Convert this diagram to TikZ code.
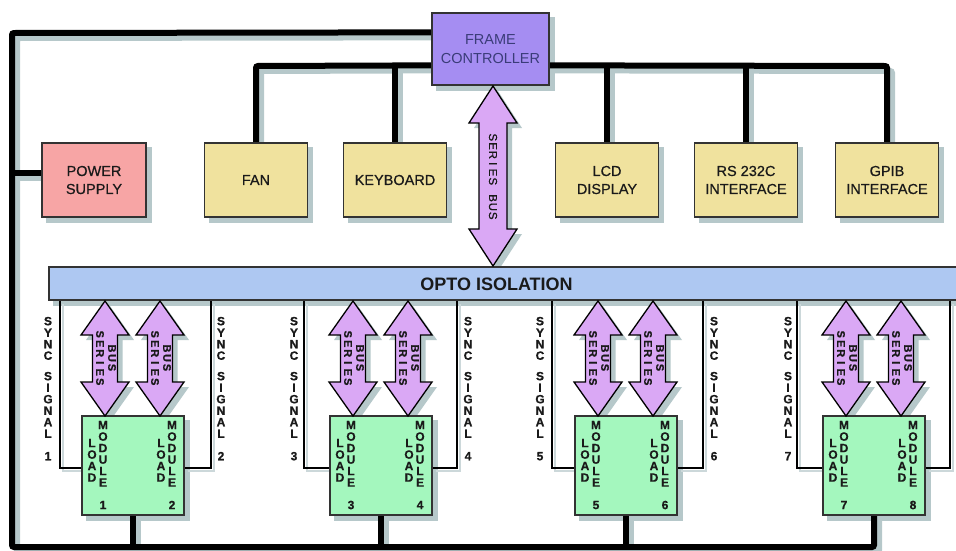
\documentclass[tikz,border=0pt]{standalone}
\usepackage{fontspec}
\setmainfont{Liberation Sans}
\newfontfamily\boxfont[FakeBold=0.6]{Liberation Sans}
\newfontfamily\smallfont[FakeBold=0.8]{Liberation Sans Bold}
\newfontfamily\arrfont[FakeBold=0.8]{Liberation Sans}
\usetikzlibrary{calc}
\definecolor{fcc}{HTML}{A58DF2}
\definecolor{fctext}{HTML}{3A3C78}
\definecolor{psc}{HTML}{F7A5A5}
\definecolor{yel}{HTML}{F0E29E}
\definecolor{barc}{HTML}{AEC8F2}
\definecolor{modc}{HTML}{A4F7BE}
\definecolor{arrowc}{HTML}{DAA8F5}
\definecolor{shadowc}{HTML}{B6C8CA}
\definecolor{shadowl}{HTML}{CCD8DA}
\definecolor{boxline}{HTML}{333333}
\definecolor{textc}{HTML}{1A1A1A}
\pgfdeclarelayer{shad}
\pgfdeclarelayer{lines}
\pgfsetlayers{shad,lines,main}
\newlength\Lspw
\def\Lsp#1#2\Lend{\makebox[\Lspw]{#1}\ifx\relax#2\relax\else\Lsp#2\Lend\fi}
\newcommand\busarrow[6]{%
  \begin{pgfonlayer}{shad}
  \fill[shadowc] ({#1+5},{#2+5}) -- ({#1+#5+5},{#2+#6+5}) -- ({#1+#4+5},{#2+#6+5}) -- ({#1+#4+5},{#3-#6+5}) -- ({#1+#5+5},{#3-#6+5}) -- ({#1+5},{#3+5}) -- ({#1-#5+5},{#3-#6+5}) -- ({#1-#4+5},{#3-#6+5}) -- ({#1-#4+5},{#2+#6+5}) -- ({#1-#5+5},{#2+#6+5}) -- cycle;
  \end{pgfonlayer}
  \draw[arrowsty] (#1,#2) -- ({#1+#5},{#2+#6}) -- ({#1+#4},{#2+#6}) -- ({#1+#4},{#3-#6}) -- ({#1+#5},{#3-#6}) -- (#1,#3) -- ({#1-#5},{#3-#6}) -- ({#1-#4},{#3-#6}) -- ({#1-#4},{#2+#6}) -- ({#1-#5},{#2+#6}) -- cycle;
}
\newcommand\buslines[1]{%
  \draw[#1] ([yshift=-20pt]fc.north west) -- (tl) -- (bl) -- (m78.south |- bl) -- (m78.south);
  \draw[#1] (m12.south) -- (m12.south |- bl);
  \draw[#1] (m34.south) -- (m34.south |- bl);
  \draw[#1] (m56.south) -- (m56.south |- bl);
  \draw[#1] ([yshift=7pt]ps.west) -- ([yshift=7pt]ps.west -| tl);
  \draw[#1] ([yshift=-53pt]fc.north west) -- (fan.north |- y2) -- (fan.north);
  \draw[#1] (kb.north |- y2) -- (kb.north);
  \draw[#1] ([yshift=-53pt]fc.north east) -- (gpib.north |- y2) -- (gpib.north);
  \draw[#1] (lcd.north |- y2) -- (lcd.north);
  \draw[#1] (rs.north |- y2) -- (rs.north);
}
\newcommand\synclines[1]{%
  \draw[#1] (sy1 |- opto.south) -- (sy1) -- (sy1 -| m12.west);
  \draw[#1] (sy2 |- opto.south) -- (sy2) -- (sy2 -| m12.east);
  \draw[#1] (sy3 |- opto.south) -- (sy3) -- (sy3 -| m34.west);
  \draw[#1] (sy4 |- opto.south) -- (sy4) -- (sy4 -| m34.east);
  \draw[#1] (sy5 |- opto.south) -- (sy5) -- (sy5 -| m56.west);
  \draw[#1] (sy6 |- opto.south) -- (sy6) -- (sy6 -| m56.east);
  \draw[#1] (sy7 |- opto.south) -- (sy7) -- (sy7 -| m78.west);
  \draw[#1] (sy8 |- opto.south) -- (sy8) -- (sy8 -| m78.east);
}
\begin{document}
\begin{tikzpicture}[x=1pt,y=-1pt,
  box/.style={draw=boxline, line width=1.3pt, inner sep=0pt, align=center,
    font=\boxfont\fontsize{14.5}{18}\selectfont, text=textc, minimum height=74pt, minimum width=103pt},
  module/.style={draw=boxline, line width=1.3pt, fill=modc, inner sep=0pt,
    minimum width=102pt, minimum height=99pt},
  bus/.style={line width=6pt, black, rounded corners=2pt},
  busshadow/.style={line width=6pt, shadowc, rounded corners=2pt},
  sync/.style={line width=1.8pt, black},
  syncshadow/.style={line width=1.8pt, shadowl},
  stack/.style={inner sep=0pt, align=center, anchor=north, text=textc,
    font=\smallfont\fontsize{12}{11.5}\selectfont},
  numlab/.style={inner sep=0pt, text=textc, font=\smallfont\fontsize{12}{12}\selectfont},
  arrowsty/.style={fill=arrowc, draw=black, line width=1.3pt, line join=miter},
  arrowtext/.style={inner sep=0pt, rotate=-90, text=textc},
]
\useasboundingbox (0,0) rectangle (956,550);

% top-level boxes
\node[box, fill=fcc, text=fctext, minimum width=117pt, minimum height=72pt,
  font=\fontsize{14.5}{19}\selectfont] (fc) at (490.5,49) {FRAME\\CONTROLLER};
\node[box, fill=psc, minimum width=104pt] (ps) at (94,180) {POWER\\SUPPLY};
\node[box, fill=yel] (fan) at (256,180) {FAN};
\node[box, fill=yel] (kb) at (395,180) {KEYBOARD};
\node[box, fill=yel] (lcd) at (607,180) {LCD\\DISPLAY};
\node[box, fill=yel] (rs) at (746,180) {RS 232C\\INTERFACE};
\node[box, fill=yel] (gpib) at (887,180) {GPIB\\INTERFACE};

% opto isolation bar
\node[draw=boxline, line width=1.3pt, fill=barc, inner sep=0pt,
  minimum width=913pt, minimum height=33pt] (opto) at (505.5,283.5) {};
\node[inner sep=0pt, text=textc, font=\bfseries\fontsize{18}{20}\selectfont] (optolab) at (496.5,284) {OPTO ISOLATION};

% load modules
\node[module] (m12) at (133,465.5) {};
\node[module] (m34) at (381,465.5) {};
\node[module] (m56) at (626,465.5) {};
\node[module] (m78) at (874,465.5) {};

\foreach \c/\a/\b in {133/1/2,381/3/4,626/5/6,874/7/8}{
  \node[stack] (la\a) at ({\c-41},438.7) {L\\O\\A\\D};
  \node[stack] (mo\a) at ({\c-30},420.7) {M\\O\\D\\U\\L\\E};
  \node[numlab] (nm\a) at ({\c-30},505) {\a};
  \node[stack] (la\b) at ({\c+28},438.7) {L\\O\\A\\D};
  \node[stack] (mo\b) at ({\c+39},420.7) {M\\O\\D\\U\\L\\E};
  \node[numlab] (nm\b) at ({\c+39},505) {\b};
}

% coordinates for connectors
\coordinate (tl) at (12,33);
\coordinate (bl) at (12,547);
\coordinate (y2) at (0,66);
\coordinate (sy1) at (60,468);
\coordinate (sy2) at (211,468);
\coordinate (sy3) at (304,468);
\coordinate (sy4) at (457,468);
\coordinate (sy5) at (552,468);
\coordinate (sy6) at (703,468);
\coordinate (sy7) at (797,468);
\coordinate (sy8) at (950,468);

% shadows
\begin{pgfonlayer}{shad}
  \foreach \n in {fc,ps,fan,kb,lcd,rs,gpib,opto,m12,m34,m56,m78}{
    \fill[shadowc] ([shift={(5pt,-5pt)}]\n.south west) rectangle ([shift={(5pt,-5pt)}]\n.north east);
  }
  \begin{scope}[transform canvas={shift={(5pt,-5pt)}}]
    \buslines{busshadow}
  \end{scope}
  \begin{scope}[transform canvas={shift={(3pt,-3pt)}}]
    \synclines{syncshadow}
  \end{scope}
\end{pgfonlayer}

% connectors
\begin{pgfonlayer}{lines}
  \buslines{bus}
  \synclines{sync}
\end{pgfonlayer}

% sync signal labels
\node[stack] (sl1) at (48,316.7) {S\\Y\\N\\C\\[9pt]S\\I\\G\\N\\A\\L\\[11pt]1};
\node[stack] (sl2) at (221,316.7) {S\\Y\\N\\C\\[9pt]S\\I\\G\\N\\A\\L\\[11pt]2};
\node[stack] (sl3) at (294,316.7) {S\\Y\\N\\C\\[9pt]S\\I\\G\\N\\A\\L\\[11pt]3};
\node[stack] (sl4) at (468,316.7) {S\\Y\\N\\C\\[9pt]S\\I\\G\\N\\A\\L\\[11pt]4};
\node[stack] (sl5) at (540,316.7) {S\\Y\\N\\C\\[9pt]S\\I\\G\\N\\A\\L\\[11pt]5};
\node[stack] (sl6) at (714,316.7) {S\\Y\\N\\C\\[9pt]S\\I\\G\\N\\A\\L\\[11pt]6};
\node[stack] (sl7) at (788,316.7) {S\\Y\\N\\C\\[9pt]S\\I\\G\\N\\A\\L\\[11pt]7};

% series bus arrows
\busarrow{493}{86}{266}{14}{24}{37}
\setlength\Lspw{8.8pt}
\node[arrowtext, font=\arrfont\fontsize{11.5}{12}\selectfont] (sbtop) at (493,176.5) {\Lsp SERIES\Lend\hspace{8pt}\Lsp BUS\Lend};

\setlength\Lspw{9.5pt}
\foreach \x [count=\i] in {105,160,353,408,598,653,846,901}{
  \busarrow{\x}{301}{416}{12.5}{24}{34}
  \node[arrowtext, font=\smallfont\fontsize{11}{12}\selectfont] (sa\i) at ({\x-5},358) {\Lsp SERIES\Lend};
  \node[arrowtext, font=\smallfont\fontsize{11}{12}\selectfont] (sb\i) at ({\x+7},358) {\Lsp BUS\Lend};
}
\end{tikzpicture}
\end{document}
